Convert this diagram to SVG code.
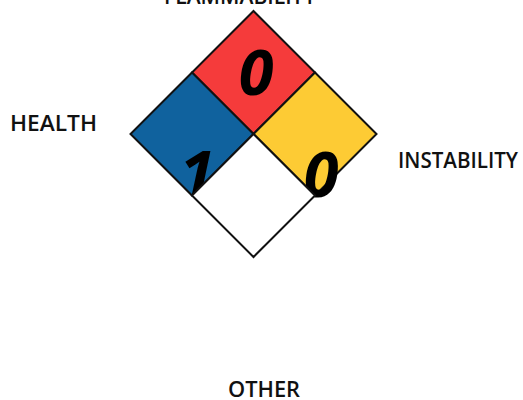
<svg xmlns="http://www.w3.org/2000/svg" width="523" height="400" viewBox="0 0 523 400">
<style>
.lbl{font-family:"Open Sans","Noto Sans",sans-serif;font-weight:600;font-size:21px;fill:#111}
.num{font-family:"Open Sans","Noto Sans",sans-serif;font-weight:700;font-style:italic;font-size:63px;fill:#000}
.q{stroke:#111;stroke-width:2;stroke-linejoin:miter}
</style>
<rect width="523" height="400" fill="#fff"/>
<g id="flammability">
<polygon class="q" points="253.5,11 315,72.5 253.5,134 192,72.5" fill="#F53B3B"/>
<text class="num" x="256" y="95" text-anchor="middle">0</text>
</g>
<g id="health">
<polygon class="q" points="192,72.5 253.5,134 192,195.5 130.5,134" fill="#10629E"/>
<text class="num" x="197" y="196" text-anchor="middle">1</text>
</g>
<g id="instability">
<polygon class="q" points="315,72.5 376.5,134 315,195.5 253.5,134" fill="#FDCB34"/>
<text class="num" x="321" y="197" text-anchor="middle">0</text>
</g>
<g id="other">
<polygon class="q" points="253.5,134 315,195.5 253.5,257 192,195.5" fill="#fff"/>
</g>
<g id="labels">
<text class="lbl" x="164" y="4" textLength="152" lengthAdjust="spacingAndGlyphs">FLAMMABILITY</text>
<text class="lbl" x="10" y="131" textLength="87" lengthAdjust="spacingAndGlyphs">HEALTH</text>
<text class="lbl" x="398" y="168" textLength="120" lengthAdjust="spacingAndGlyphs">INSTABILITY</text>
<text class="lbl" x="228" y="397" textLength="72" lengthAdjust="spacingAndGlyphs">OTHER</text>
</g>
<g id="connectors"></g>
</svg>
